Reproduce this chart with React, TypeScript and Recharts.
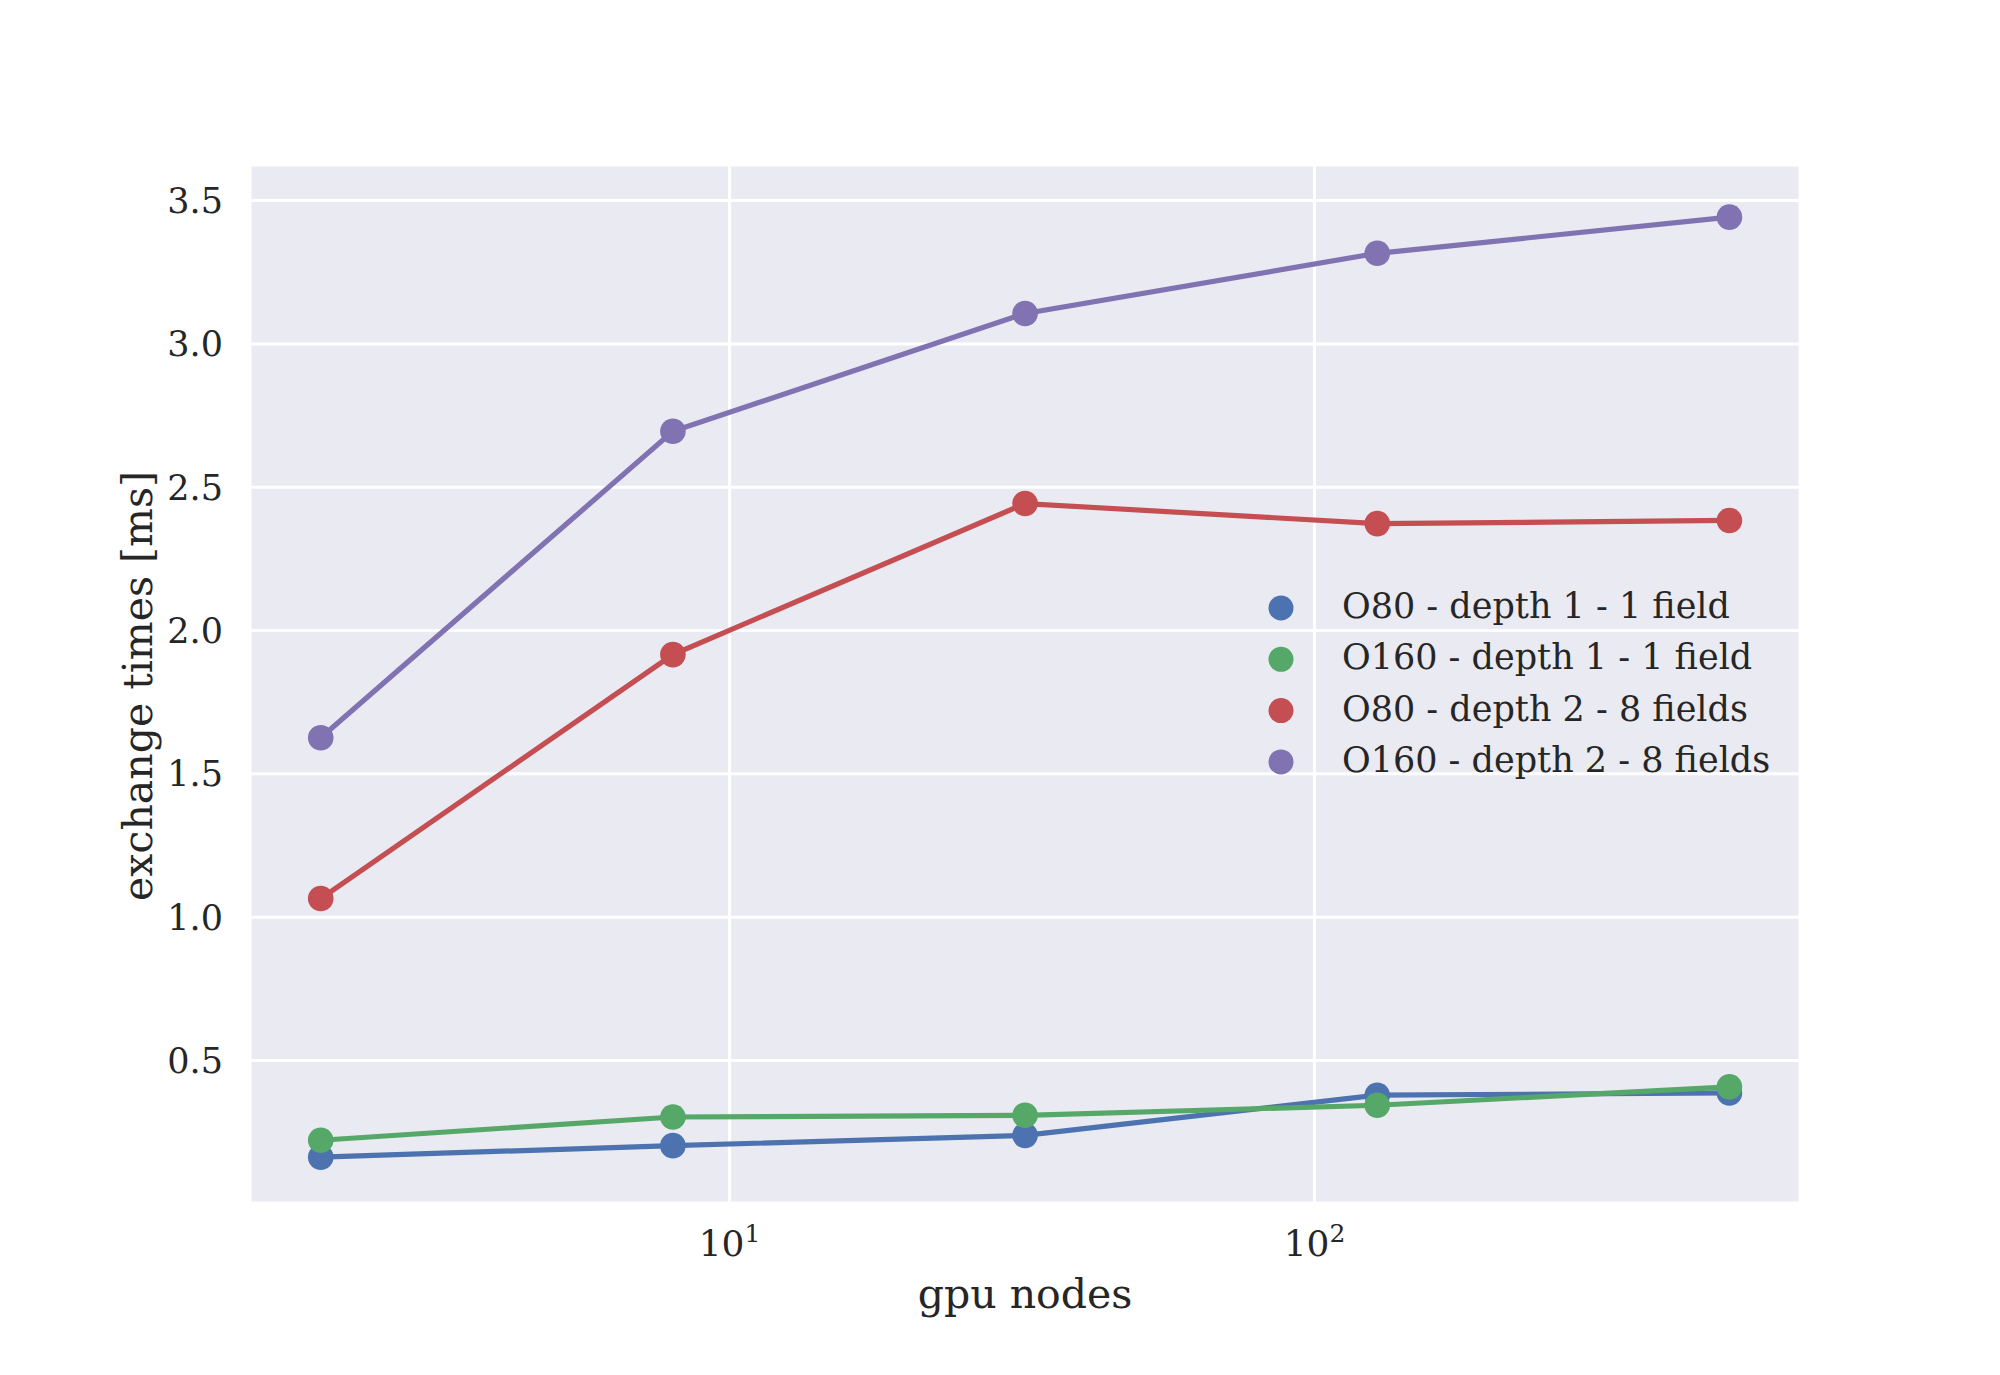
import React from "react";
import { LineChart, Line, XAxis, YAxis, CartesianGrid, Legend } from "recharts";

const nodes = [2, 8, 32, 128, 512];
const o80d1 = [0.163, 0.203, 0.239, 0.379, 0.387];
const o160d1 = [0.222, 0.303, 0.309, 0.344, 0.408];
const o80d2 = [1.065, 1.916, 2.443, 2.373, 2.384];
const o160d2 = [1.626, 2.695, 3.106, 3.316, 3.442];

const seriesNames = [
  "O80 - depth 1 - 1 field",
  "O160 - depth 1 - 1 field",
  "O80 - depth 2 - 8 fields",
  "O160 - depth 2 - 8 fields",
];
const seriesKeys = ["o80d1", "o160d1", "o80d2", "o160d2"];
const seriesColors = ["#4C72B0", "#55A868", "#C44E52", "#8172B2"];

const xTicks = [10, 100];
const xTickExp = ["1", "2"];
const yTicks = [0.5, 1.0, 1.5, 2.0, 2.5, 3.0, 3.5];

const data = nodes.map((n, i) => ({
  n,
  o80d1: o80d1[i],
  o160d1: o160d1[i],
  o80d2: o80d2[i],
  o160d2: o160d2[i],
}));

const FONT = "'DejaVu Serif', serif";
const TEXT = "#262626";

const XTick = (props: any) => {
  const { x, y, payload } = props;
  const idx = xTicks.indexOf(payload.value);
  return (
    <text x={x} y={y + 53} textAnchor="middle" fontFamily={FONT} fontSize={36} fill={TEXT}>
      <tspan>10</tspan>
      <tspan dy={-14} fontSize={25}>{xTickExp[idx]}</tspan>
    </text>
  );
};

const YLabel = (props: any) => {
  const vb = props.viewBox || { x: 0, y: 165, width: 250, height: 1038 };
  const cx = vb.x + 152;
  const cy = vb.y + vb.height / 2 + 2;
  return (
    <text
      x={cx}
      y={cy}
      transform={`rotate(-90, ${cx}, ${cy})`}
      textAnchor="middle"
      fontFamily={FONT}
      fontSize={41}
      fill={TEXT}
    >
      exchange times [ms]
    </text>
  );
};

const XLabel = (props: any) => {
  const vb = props.viewBox || { x: 250, y: 1203, width: 1550, height: 172 };
  return (
    <text
      x={vb.x + vb.width / 2}
      y={vb.y + 105}
      textAnchor="middle"
      fontFamily={FONT}
      fontSize={41}
      fill={TEXT}
    >
      gpu nodes
    </text>
  );
};

const renderLegend = () => (
  <svg width={540} height={230} style={{ display: "block" }}>
    {seriesNames.map((name, i) => {
      const cy = 28 + i * 51.3;
      return (
        <g key={name}>
          <circle cx={21} cy={cy} r={12.5} fill={seriesColors[i]} />
          <text x={82} y={cy + 10} fontFamily={FONT} fontSize={35} fill={TEXT}>
            {name}
          </text>
        </g>
      );
    })}
  </svg>
);

export default function App() {
  return (
    <div style={{ position: "absolute", left: 0, top: 0, width: 2000, height: 1375, background: "#fff" }}>
      <LineChart
        width={2000}
        height={1375}
        data={data}
        margin={{ top: 165, right: 200, left: 0, bottom: 0 }}
      >
        <CartesianGrid
          fill="#EAEAF2"
          fillOpacity={1}
          stroke="#FFFFFF"
          strokeWidth={3}
        />
        <XAxis
          dataKey="n"
          type="number"
          scale="log"
          domain={[1.514, 676]}
          allowDataOverflow
          ticks={xTicks}
          tick={<XTick />}
          tickLine={false}
          axisLine={false}
          tickSize={0}
          tickMargin={0}
          height={172}
          interval={0}
          label={<XLabel />}
        />
        <YAxis
          type="number"
          domain={[0.003, 3.624]}
          allowDataOverflow
          ticks={yTicks}
          tickFormatter={(v: number) => v.toFixed(1)}
          tick={{ fontFamily: FONT, fontSize: 35, fill: TEXT }}
          tickLine={false}
          axisLine={false}
          tickSize={0}
          tickMargin={27}
          width={250}
          interval={0}
          label={<YLabel />}
        />
        <Legend
          layout="horizontal"
          align="center"
          verticalAlign="middle"
          content={renderLegend}
          wrapperStyle={{ left: 1260, top: 580, width: 540, height: 230 }}
        />
        {seriesKeys.map((k, i) => (
          <Line
            key={"dots-" + k}
            dataKey={k}
            stroke={seriesColors[i]}
            strokeOpacity={0}
            strokeWidth={0}
            dot={{ r: 12.8, fill: seriesColors[i], stroke: "none", strokeWidth: 0 }}
            activeDot={false}
            isAnimationActive={false}
            legendType="none"
          />
        ))}
        {seriesKeys.map((k, i) => (
          <Line
            key={"line-" + k}
            dataKey={k}
            stroke={seriesColors[i]}
            strokeWidth={5.2}
            dot={false}
            activeDot={false}
            isAnimationActive={false}
            legendType="none"
          />
        ))}
      </LineChart>
    </div>
  );
}
